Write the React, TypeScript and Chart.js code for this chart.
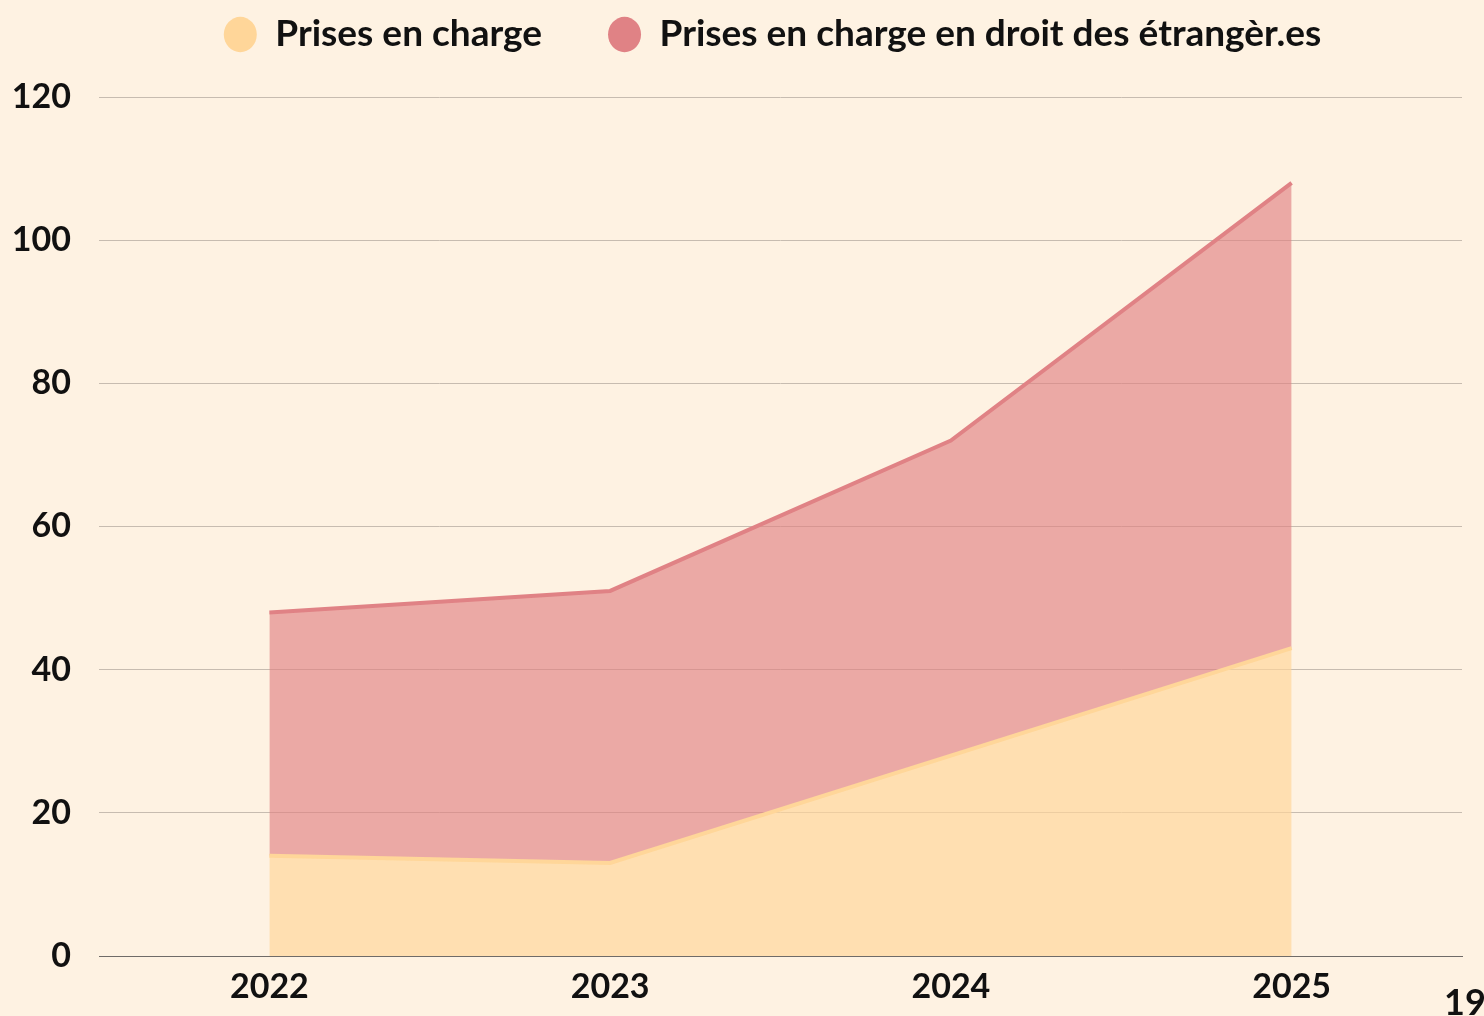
import React, { useEffect, useRef } from "react";
import { Chart, registerables } from "chart.js";

Chart.register(...registerables);

const years = ["2022", "2023", "2024", "2025"];
const seriesLabels = ["Prises en charge", "Prises en charge en droit des étrangèr.es"];
const prisesEnCharge = [14, 13, 28, 43];
// stacked on top of the first series (totals 48, 51, 72, 108)
const prisesDroitEtrangers = [34, 38, 44, 65];
const yMin = 0;
const yMax = 120;
const yStep = 20;
const pageNumber = "19";

const BG = "#FEF2E2";
const FONT = "Lato, 'Noto Sans', sans-serif";

export default function App() {
  const canvasRef = useRef<HTMLCanvasElement | null>(null);

  useEffect(() => {
    document.body.style.margin = "0";
    const canvas = canvasRef.current;
    if (!canvas) return;

    const legendSpace = {
      id: "legendSpace",
      beforeInit(chart: any) {
        const legend = chart.legend;
        if (!legend) return;
        const orig = legend.fit;
        legend.fit = function () {
          orig.call(this);
          this.height += 34;
        };
      },
      afterLayout(chart: any) {
        if (chart.legend) chart.legend.left = 83;
      },
    };

    const chart = new Chart(canvas, {
      type: "line",
      data: {
        labels: years,
        datasets: [
          {
            label: seriesLabels[0],
            data: prisesEnCharge,
            borderColor: "#FFD699",
            backgroundColor: "rgba(255,214,153,0.68)",
            borderWidth: 4,
            pointRadius: 0,
            fill: "origin",
            tension: 0,
          },
          {
            label: seriesLabels[1],
            data: prisesDroitEtrangers,
            borderColor: "#E08285",
            backgroundColor: "rgba(224,128,130,0.64)",
            borderWidth: 4,
            pointRadius: 0,
            fill: "-1",
            tension: 0,
          },
        ],
      },
      options: {
        animation: false,
        responsive: true,
        maintainAspectRatio: false,
        layout: { padding: { top: -50, right: 22, bottom: 0, left: 0 } },
        plugins: {
          tooltip: { enabled: false },
          legend: {
            display: true,
            position: "top",
            labels: {
              usePointStyle: true,
              pointStyle: "circle",
              boxHeight: 25,
              pointStyleWidth: 33,
              padding: 66,
              color: "#111",
              font: { family: FONT, size: 37, weight: "bold" },
              generateLabels(chart: any) {
                return chart.data.datasets.map((ds: any, i: number) => ({
                  text: ds.label,
                  fillStyle: ds.borderColor,
                  strokeStyle: ds.borderColor,
                  lineWidth: 0,
                  pointStyle: "circle",
                  hidden: false,
                  datasetIndex: i,
                  fontColor: "#111",
                }));
              },
            },
          },
        },
        scales: {
          x: {
            offset: true,
            grid: { display: false, drawTicks: false },
            border: { display: true, color: "#6f6b68", width: 1 },
            ticks: {
              color: "#111",
              padding: 11,
              font: { family: FONT, size: 34, weight: "bold" },
            },
            afterFit(scale: any) {
              scale.height = 60;
            },
          },
          y: {
            stacked: true,
            min: yMin,
            max: yMax,
            grid: {
              drawTicks: false,
              color: (ctx: any) => (ctx.tick && ctx.tick.value === 0 ? "#6f6b68" : "#c7bcb0"),
              lineWidth: 1,
            },
            border: { display: false },
            ticks: {
              stepSize: yStep,
              color: "#111",
              padding: 28,
              font: { family: FONT, size: 34, weight: "bold" },
            },
            afterFit(scale: any) {
              scale.width = 99;
            },
          },
        },
      },
      plugins: [legendSpace],
    });

    return () => chart.destroy();
  }, []);

  return (
    <div style={{ position: "fixed", inset: 0, background: BG, overflow: "hidden" }}>
      <canvas ref={canvasRef} />
      <div
        style={{
          position: "absolute",
          left: 1444,
          top: 983,
          fontFamily: FONT,
          fontWeight: 700,
          fontSize: 36,
          lineHeight: 1,
          color: "#111",
        }}
      >
        {pageNumber}
      </div>
    </div>
  );
}
